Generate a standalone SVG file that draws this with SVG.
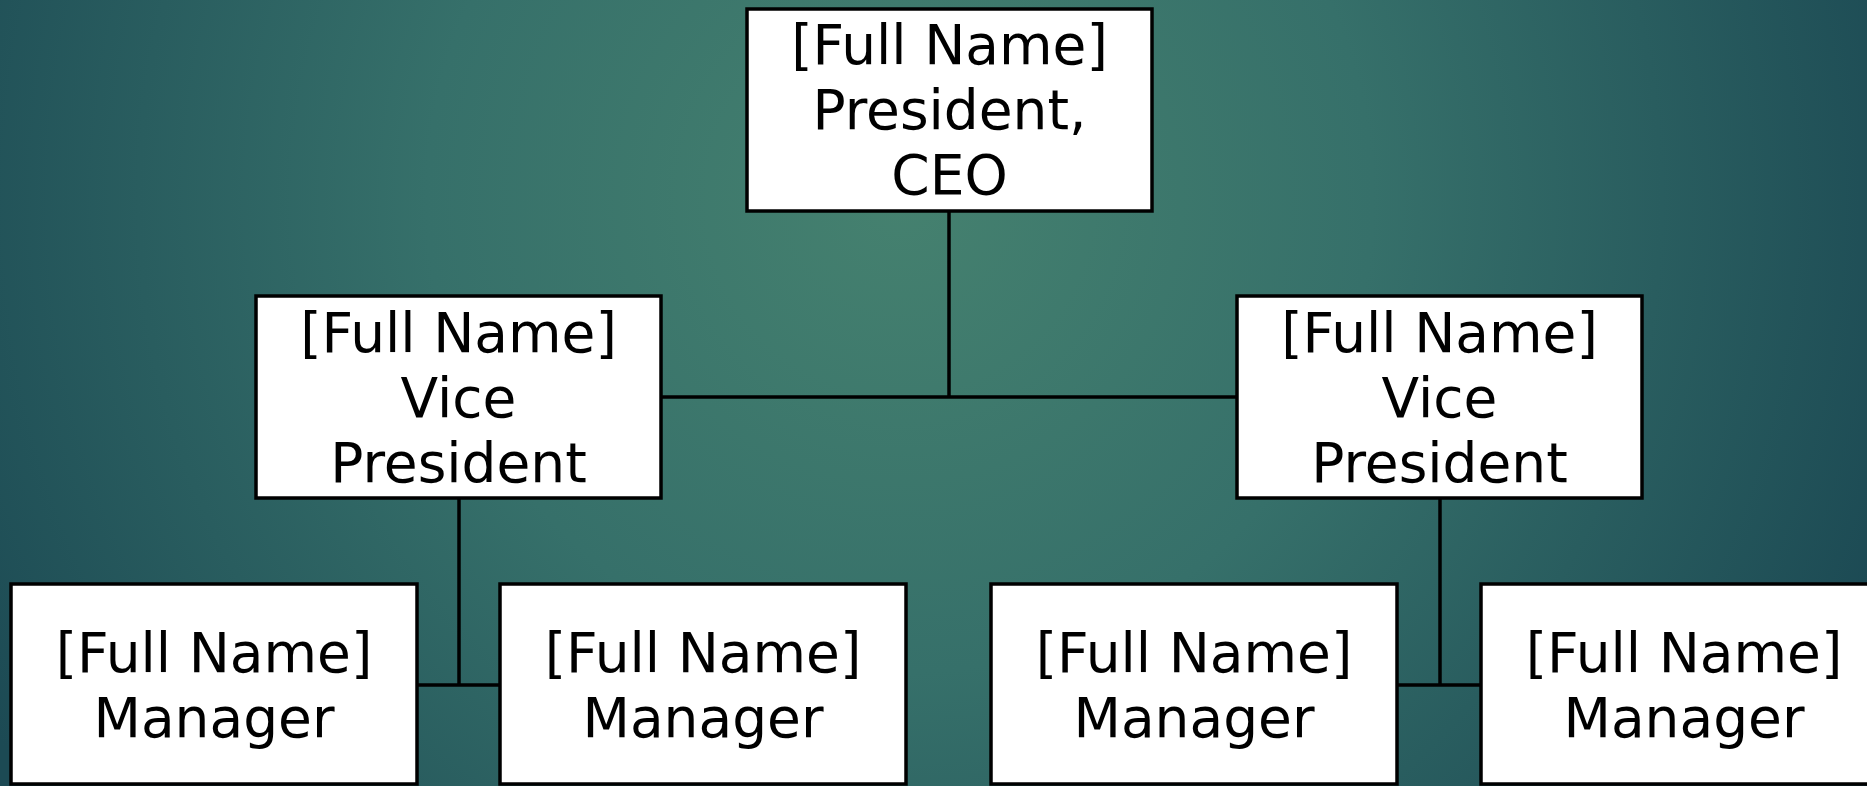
<svg xmlns="http://www.w3.org/2000/svg" width="1867" height="786" viewBox="0 0 1867 786">
  <defs>
    <radialGradient id="bg" gradientUnits="userSpaceOnUse" cx="900" cy="200" r="1050">
      <stop offset="0" stop-color="#45816f"/>
      <stop offset="0.45" stop-color="#36706a"/>
      <stop offset="1" stop-color="#1c4a54"/>
    </radialGradient>
  </defs>
  <style>
    .box { fill: #ffffff; stroke: #000000; stroke-width: 3.5; }
    .lbl { font-family: "DejaVu Sans", "Liberation Sans", sans-serif; font-size: 55px; fill: #000000; text-anchor: middle; }
    .conn { stroke: #000000; stroke-width: 3.5; fill: none; }
  </style>
  <rect x="0" y="0" width="1867" height="786" fill="url(#bg)"/>
  <g id="connectors">
    <line class="conn" x1="949" y1="211" x2="949" y2="397"/>
    <line class="conn" x1="661" y1="397" x2="1237" y2="397"/>
    <line class="conn" x1="459" y1="498" x2="459" y2="685"/>
    <line class="conn" x1="417" y1="685" x2="500" y2="685"/>
    <line class="conn" x1="1440" y1="498" x2="1440" y2="685"/>
    <line class="conn" x1="1397" y1="685" x2="1481" y2="685"/>
  </g>
  <g id="ceo">
    <rect class="box" x="747" y="9" width="405" height="202"/>
    <text class="lbl" x="949.5" y="64">[Full Name]</text>
    <text class="lbl" x="949.5" y="129">President,</text>
    <text class="lbl" x="949.5" y="194">CEO</text>
  </g>
  <g id="vp-left">
    <rect class="box" x="256" y="296" width="405" height="202"/>
    <text class="lbl" x="458.5" y="352">[Full Name]</text>
    <text class="lbl" x="458.5" y="417">Vice</text>
    <text class="lbl" x="458.5" y="482">President</text>
  </g>
  <g id="vp-right">
    <rect class="box" x="1237" y="296" width="405" height="202"/>
    <text class="lbl" x="1439.5" y="352">[Full Name]</text>
    <text class="lbl" x="1439.5" y="417">Vice</text>
    <text class="lbl" x="1439.5" y="482">President</text>
  </g>
  <g id="mgr-1">
    <rect class="box" x="11" y="584" width="406" height="200"/>
    <text class="lbl" x="214" y="672">[Full Name]</text>
    <text class="lbl" x="214" y="737">Manager</text>
  </g>
  <g id="mgr-2">
    <rect class="box" x="500" y="584" width="406" height="200"/>
    <text class="lbl" x="703" y="672">[Full Name]</text>
    <text class="lbl" x="703" y="737">Manager</text>
  </g>
  <g id="mgr-3">
    <rect class="box" x="991" y="584" width="406" height="200"/>
    <text class="lbl" x="1194" y="672">[Full Name]</text>
    <text class="lbl" x="1194" y="737">Manager</text>
  </g>
  <g id="mgr-4">
    <rect class="box" x="1481" y="584" width="406" height="200"/>
    <text class="lbl" x="1684" y="672">[Full Name]</text>
    <text class="lbl" x="1684" y="737">Manager</text>
  </g>
</svg>
